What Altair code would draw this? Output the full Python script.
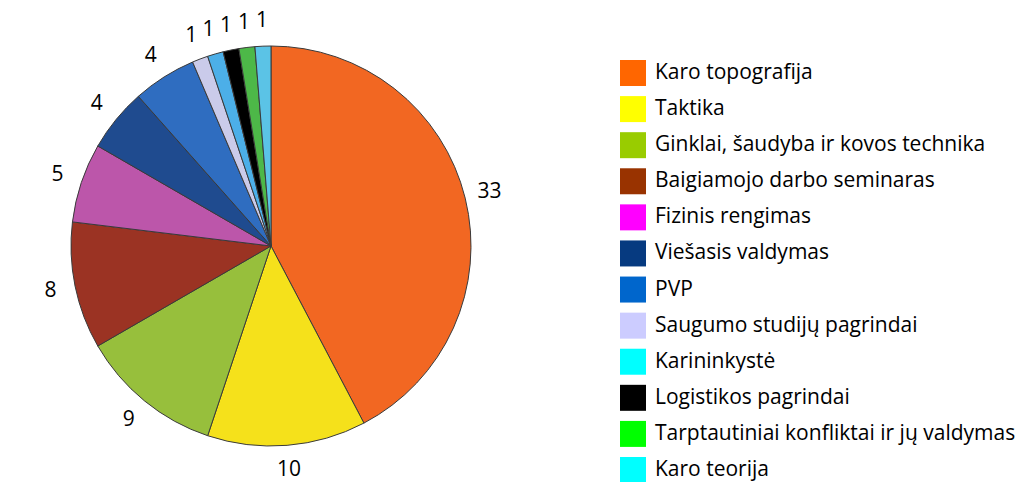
import altair as alt
import pandas as pd

categories = [
    "Karo topografija",
    "Taktika",
    "Ginklai, šaudyba ir kovos technika",
    "Baigiamojo darbo seminaras",
    "Fizinis rengimas",
    "Viešasis valdymas",
    "PVP",
    "Saugumo studijų pagrindai",
    "Karininkystė",
    "Logistikos pagrindai",
    "Tarptautiniai konfliktai ir jų valdymas",
    "Karo teorija",
]
values = [33, 10, 9, 8, 5, 4, 4, 1, 1, 1, 1, 1]
pie_colors = ["#F26722", "#F5E11B", "#97BF3C", "#9B3323", "#BC56AA", "#1F4B8F",
              "#2F6DC0", "#CACBEA", "#4CAFE8", "#000000", "#4DB848", "#5BC3E6"]
legend_colors = ["#FF6600", "#FFFF00", "#99CC00", "#993300", "#FF00FF", "#063A80",
                 "#0066CC", "#CCCCFF", "#00FFFF", "#000000", "#00FF00", "#00FFFF"]

df = pd.DataFrame({"cat": categories, "val": values, "idx": list(range(len(categories)))})

FONT = "Open Sans"

base = alt.Chart(df).encode(
    theta=alt.Theta("val:Q", stack=True),
    order=alt.Order("idx:O"),
)

pie = base.mark_arc(outerRadius=200, stroke="#3a3a3a", strokeWidth=1).encode(
    fill=alt.Fill("cat:N", scale=alt.Scale(domain=categories, range=pie_colors), legend=None)
)

labels = base.mark_text(radius=225, font=FONT, fontSize=21, color="#000000").encode(
    text=alt.Text("val:Q")
)

pie_panel = alt.layer(pie, labels).properties(width=526, height=476)

ycat = alt.Y("cat:N", sort=categories, axis=None,
             scale=alt.Scale(type="point", domain=categories, range=[65, 462], padding=0))

leg_base = alt.Chart(df).encode(y=ycat)
leg_sq = leg_base.mark_square(size=676, opacity=1, strokeWidth=0).encode(
    x=alt.value(13),
    color=alt.Color("cat:N", scale=alt.Scale(domain=categories, range=legend_colors), legend=None),
)
leg_txt = leg_base.mark_text(align="left", baseline="middle", font=FONT, fontSize=21,
                             color="#000000").encode(
    x=alt.value(35),
    text="cat:N",
)
legend_panel = alt.layer(leg_sq, leg_txt).properties(width=380, height=476)

chart = (
    alt.hconcat(pie_panel, legend_panel, spacing=86)
    .properties(padding=0)
    .configure_view(stroke=None)
)

chart.save("out.html", embed_options={"renderer": "svg", "actions": False})
